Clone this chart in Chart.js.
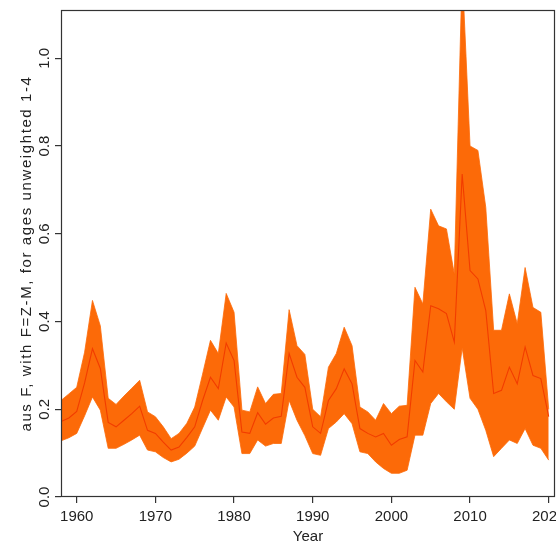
<!DOCTYPE html>
<html>
<head>
<meta charset="utf-8">
<script src="https://cdn.jsdelivr.net/npm/chart.js@4/dist/chart.umd.min.js"></script>
<style>
  html, body { margin: 0; padding: 0; background: #fff; }
  #wrap { width: 556px; height: 541px; }
</style>
</head>
<body>
<div id="wrap"><canvas id="c" width="556" height="541"></canvas></div>
<script>
const years = [1958,1959,1960,1961,1962,1963,1964,1965,1966,1967,1968,1969,1970,1971,1972,1973,1974,1975,1976,1977,1978,1979,1980,1981,1982,1983,1984,1985,1986,1987,1988,1989,1990,1991,1992,1993,1994,1995,1996,1997,1998,1999,2000,2001,2002,2003,2004,2005,2006,2007,2008,2009,2010,2011,2012,2013,2014,2015,2016,2017,2018,2019,2020];
const upperF = [0.22,0.235,0.25,0.33,0.448,0.39,0.225,0.211,0.23,0.248,0.266,0.194,0.183,0.16,0.133,0.145,0.168,0.205,0.28,0.357,0.327,0.464,0.421,0.198,0.194,0.251,0.213,0.234,0.236,0.427,0.345,0.325,0.2,0.183,0.296,0.327,0.387,0.345,0.205,0.194,0.175,0.213,0.19,0.207,0.209,0.478,0.44,0.656,0.618,0.611,0.508,1.2,0.80,0.79,0.66,0.38,0.38,0.463,0.395,0.523,0.432,0.421,0.2];
const medianF = [0.172,0.18,0.195,0.26,0.338,0.293,0.17,0.16,0.175,0.19,0.207,0.152,0.145,0.125,0.107,0.114,0.136,0.16,0.22,0.273,0.247,0.351,0.311,0.148,0.145,0.192,0.166,0.18,0.184,0.327,0.273,0.25,0.16,0.145,0.22,0.247,0.292,0.258,0.156,0.145,0.137,0.145,0.118,0.131,0.137,0.311,0.285,0.436,0.429,0.418,0.353,0.736,0.516,0.497,0.425,0.236,0.243,0.296,0.258,0.342,0.277,0.27,0.183];
const lowerF = [0.128,0.135,0.145,0.185,0.228,0.198,0.111,0.111,0.12,0.13,0.141,0.107,0.103,0.09,0.08,0.086,0.10,0.116,0.157,0.198,0.175,0.228,0.205,0.099,0.099,0.13,0.116,0.122,0.122,0.22,0.175,0.14,0.099,0.095,0.156,0.171,0.19,0.167,0.103,0.099,0.08,0.065,0.054,0.054,0.061,0.141,0.141,0.213,0.236,0.217,0.2,0.34,0.225,0.2,0.152,0.092,0.111,0.13,0.122,0.156,0.118,0.111,0.084];
const xTickValues = [1960,1970,1980,1990,2000,2010,2020];
const yTickValues = [0.0,0.2,0.4,0.6,0.8,1.0];
const xTitle = "Year";
const yTitle = "aus F, with F=Z-M, for ages unweighted 1-4";

const toXY = arr => years.map((y, i) => ({x: y, y: arr[i]}));
const FONT = "'Liberation Sans', Arial, sans-serif";
const TXT = '#222';
const AXIS = '#333';

const framePlugin = {
  id: 'frame',
  beforeDraw(chart) {
    const ctx = chart.ctx;
    ctx.save();
    ctx.fillStyle = '#fff';
    ctx.fillRect(0, 0, chart.width, chart.height);
    ctx.restore();
  },
  afterDraw(chart) {
    const ctx = chart.ctx;
    const a = chart.chartArea;
    ctx.save();
    ctx.strokeStyle = AXIS;
    ctx.lineWidth = 1.2;
    ctx.strokeRect(a.left + 0.5, a.top + 0.5, a.right - a.left - 1, a.bottom - a.top - 1);
    // y tick labels (rotated, like R las=0)
    const ys = chart.scales.y;
    ctx.fillStyle = TXT;
    ctx.font = '15px ' + FONT;
    ctx.textAlign = 'center';
    ctx.textBaseline = 'middle';
    ys.ticks.forEach(t => {
      const py = ys.getPixelForValue(t.value);
      ctx.save();
      ctx.translate(45, py);
      ctx.rotate(-Math.PI / 2);
      ctx.fillText(t.value.toFixed(1), 0, 0);
      ctx.restore();
    });
    // y axis title
    ctx.save();
    ctx.translate(27, (a.top + a.bottom) / 2);
    ctx.rotate(-Math.PI / 2);
    ctx.font = '15px ' + FONT;
    if ('letterSpacing' in ctx) ctx.letterSpacing = '1.6px';
    ctx.fillText(yTitle, 0, 0);
    ctx.restore();
    ctx.restore();
  }
};

new Chart(document.getElementById('c'), {
  type: 'line',
  data: {
    datasets: [
      { label: 'upper', data: toXY(upperF), borderWidth: 0.8, borderColor: '#fc6a08', backgroundColor: '#fc6a08', pointRadius: 0, fill: '+1', tension: 0, order: 2 },
      { label: 'lower', data: toXY(lowerF), borderWidth: 0.8, borderColor: '#fc6a08', pointRadius: 0, fill: false, tension: 0, order: 2 },
      { label: 'median', data: toXY(medianF), borderWidth: 1.1, borderColor: '#f23c00', pointRadius: 0, fill: false, tension: 0, order: 1 }
    ]
  },
  options: {
    responsive: false,
    animation: false,
    events: [],
    layout: { padding: { top: 10, right: 1, left: 0, bottom: 0 } },
    plugins: { legend: { display: false }, tooltip: { enabled: false } },
    scales: {
      x: {
        type: 'linear',
        min: 1958,
        max: 2020.8,
        afterFit: s => { s.height = 44; s.paddingLeft = 0; s.paddingRight = 0; },
        afterBuildTicks: s => { s.ticks = xTickValues.map(v => ({value: v})); },
        ticks: { font: { size: 15, family: FONT }, color: TXT, padding: 5, maxRotation: 0, autoSkip: false, callback: v => String(v) },
        grid: { display: true, drawOnChartArea: false, drawTicks: true, tickLength: 6, color: AXIS, lineWidth: 1.2 },
        border: { display: false },
        title: { display: true, text: xTitle, font: { size: 15, family: FONT }, color: TXT, padding: { top: 0, bottom: -5 } }
      },
      y: {
        type: 'linear',
        min: 0,
        max: 1.11,
        afterFit: s => { s.width = 61; s.paddingTop = 0; s.paddingBottom = 0; },
        afterBuildTicks: s => { s.ticks = yTickValues.map(v => ({value: v})); },
        ticks: { display: false },
        grid: { display: true, drawOnChartArea: false, drawTicks: true, tickLength: 6, color: AXIS, lineWidth: 1.2 },
        border: { display: false }
      }
    }
  },
  plugins: [framePlugin]
});
</script>
</body>
</html>
